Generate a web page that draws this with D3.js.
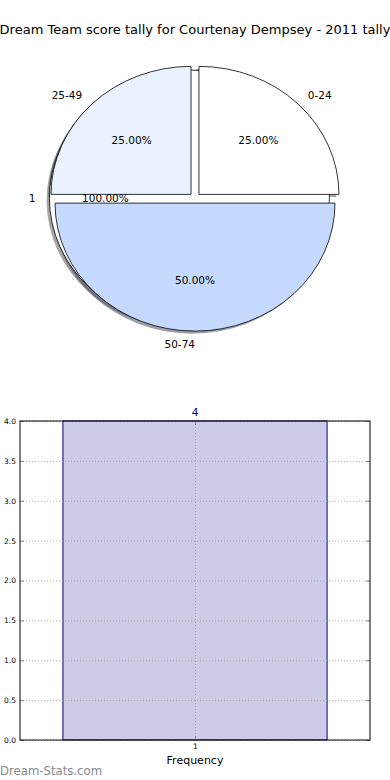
<!DOCTYPE html>
<html>
<head>
<meta charset="utf-8">
<script src="https://cdn.jsdelivr.net/npm/d3@7"></script>
<style>
  body { margin: 0; background: #fff; }
  svg { display: block; font-family: "DejaVu Sans", sans-serif; }
</style>
</head>
<body>
<script>
// pie data
const pieLabels = ['0-24', '25-49', '50-74']
const pieValues = [1, 1, 2]
const pieColors = ['#ffffff', '#eaf1ff', '#c5d9ff']
// the single-wedge pie sitting underneath
const totalLabels = ['1']
const totalValues = [4]
// bar data
const barCats = [1]
const barValues = [4]
const yTicks = [0, 0.5, 1, 1.5, 2, 2.5, 3, 3.5, 4]

const W = 390, H = 780
const svg = d3.select('body').append('svg')
  .attr('width', W).attr('height', H)

svg.append('text')
  .text('Dream Team score tally for Courtenay Dempsey - 2011 tally')
  .attr('x', 195).attr('y', 34)
  .attr('text-anchor', 'middle')
  .attr('font-size', 13)

// ---- pie ----
const cx = 195, cy = 198, rx = 140, ry = 128
const explode = 0.04
const pie = d3.pie().sort(null)
  .startAngle(Math.PI / 2)
  .endAngle(Math.PI / 2 - 2 * Math.PI)
const arc = d3.arc().innerRadius(0).outerRadius(1)

function layout(labels, values, colors){
  return pie(values).map((d, i) => {
    const mid = (d.startAngle + d.endAngle) / 2
    const ux = Math.sin(mid), uy = -Math.cos(mid)
    return {
      arc: d, label: labels[i], color: colors[i],
      pct: (d.value / d3.sum(values) * 100).toFixed(2) + '%',
      ux: ux, uy: uy,
      ox: cx + explode * ux * rx,
      oy: cy + explode * uy * ry
    }
  })
}
const under = layout(totalLabels, totalValues, ['#ffffff'])
const wedges = layout(pieLabels, pieValues, pieColors)
const all = under.concat(wedges)

function shade(c){
  const k = d3.rgb(c)
  return d3.rgb(k.r * 0.3, k.g * 0.3, k.b * 0.3)
}

const pieG = svg.append('g')
// shadows first
pieG.selectAll('path.shadow').data(all)
  .enter().append('path')
    .attr('class', 'shadow')
    .attr('d', d => arc(d.arc))
    .attr('transform', d => `translate(${d.ox - 0.02 * rx},${d.oy + 0.02 * ry}) scale(${rx},${ry})`)
    .attr('fill', d => shade(d.color))
    .attr('fill-opacity', 0.5)

pieG.selectAll('path.wedge').data(all)
  .enter().append('path')
    .attr('class', 'wedge')
    .attr('d', d => arc(d.arc))
    .attr('transform', d => `translate(${d.ox},${d.oy}) scale(${rx},${ry})`)
    .attr('fill', d => d.color)
    .attr('stroke', '#000')
    .attr('stroke-width', 0.8)
    .attr('vector-effect', 'non-scaling-stroke')

pieG.selectAll('text.lab').data(all)
  .enter().append('text')
    .attr('class', 'lab')
    .text(d => d.label)
    .attr('x', d => d.ox + 1.1 * d.ux * rx)
    .attr('y', d => d.oy + 1.1 * d.uy * ry)
    .attr('text-anchor', d => d.ux > 0 ? 'start' : 'end')
    .attr('dominant-baseline', 'central')
    .attr('font-size', 10.5)

pieG.selectAll('text.pct').data(all)
  .enter().append('text')
    .attr('class', 'pct')
    .text(d => d.pct)
    .attr('x', d => d.ox + 0.6 * d.ux * rx)
    .attr('y', d => d.oy + 0.6 * d.uy * ry)
    .attr('text-anchor', 'middle')
    .attr('dominant-baseline', 'central')
    .attr('font-size', 10.5)

// ---- bar chart ----
const axLeft = 20, axRight = 370, axTop = 421, axBottom = 740
const x = d3.scaleLinear().domain([0.47, 1.53]).range([axLeft, axRight])
const y = d3.scaleLinear().domain([0, 4]).range([axBottom, axTop])
const barW = 0.8

const g = svg.append('g')

g.append('g').selectAll('rect').data(barValues)
  .enter().append('rect')
    .attr('x', (d, i) => x(barCats[i] - barW / 2))
    .attr('y', d => y(d))
    .attr('width', (d, i) => x(barCats[i] + barW / 2) - x(barCats[i] - barW / 2))
    .attr('height', d => y(0) - y(d))
    .attr('fill', '#ccccE6')
    .attr('stroke', '#00008b')
    .attr('stroke-width', 1)

// grid
g.append('g').selectAll('line').data(yTicks)
  .enter().append('line')
    .attr('x1', axLeft).attr('x2', axRight)
    .attr('y1', d => y(d) + 0.5).attr('y2', d => y(d) + 0.5)
    .attr('stroke', '#aaa').attr('stroke-dasharray', '1,2')
g.append('g').selectAll('line').data(barCats)
  .enter().append('line')
    .attr('x1', d => x(d) + 0.5).attr('x2', d => x(d) + 0.5)
    .attr('y1', axTop).attr('y2', axBottom)
    .attr('stroke', '#aaa').attr('stroke-dasharray', '1,2')

// axes: inside ticks on all four sides
const yAxis = d3.axisLeft(y).tickValues(yTicks).tickSize(-4).tickPadding(4).tickFormat(d3.format('.1f'))
const yAxisR = d3.axisRight(y).tickValues(yTicks).tickSize(-4).tickFormat('')
const xAxis = d3.axisBottom(x).tickValues(barCats).tickSize(-4).tickPadding(4).tickFormat(d3.format('d'))
const xAxisT = d3.axisTop(x).tickValues(barCats).tickSize(-4).tickFormat('')

function style(sel){
  sel.select('.domain').remove()
  sel.selectAll('.tick line').attr('stroke', '#888')
  sel.selectAll('.tick text').attr('font-size', 7.5).attr('fill', '#000').attr('font-family', '"DejaVu Sans", sans-serif')
}
g.append('g').attr('transform', `translate(${axLeft},0)`).call(yAxis).call(style)
g.append('g').attr('transform', `translate(${axRight},0)`).call(yAxisR).call(style)
g.append('g').attr('transform', `translate(0,${axBottom})`).call(xAxis).call(style)
g.append('g').attr('transform', `translate(0,${axTop})`).call(xAxisT).call(style)

g.append('rect')
  .attr('x', axLeft).attr('y', axTop)
  .attr('width', axRight - axLeft).attr('height', axBottom - axTop)
  .attr('fill', 'none').attr('stroke', '#000').attr('stroke-width', 1)

g.append('g').selectAll('text').data(barValues)
  .enter().append('text')
    .text(d => d)
    .attr('x', (d, i) => x(barCats[i]))
    .attr('y', d => y(d) - 5)
    .attr('text-anchor', 'middle')
    .attr('font-size', 10.5)
    .attr('fill', '#00008b')

svg.append('text')
  .text('Frequency')
  .attr('x', (axLeft + axRight) / 2).attr('y', 764)
  .attr('text-anchor', 'middle')
  .attr('font-size', 11)

svg.append('text')
  .text('Dream-Stats.com')
  .attr('x', 0).attr('y', 775)
  .attr('font-size', 11.7)
  .attr('fill', '#888')
</script>
</body>
</html>
